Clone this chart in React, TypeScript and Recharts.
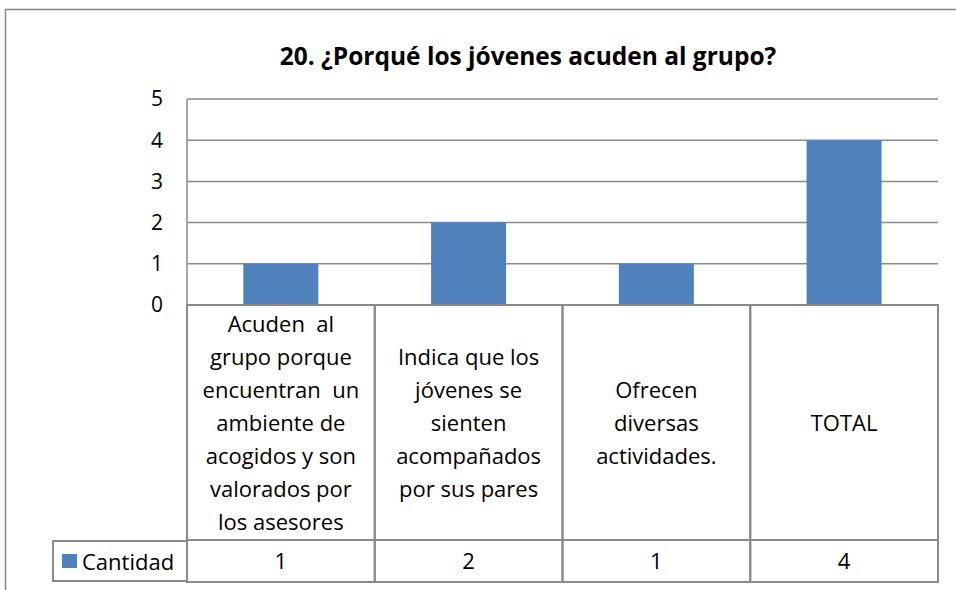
import React from 'react';
import { BarChart, Bar, XAxis, YAxis, CartesianGrid, Legend, Customized } from 'recharts';

const chartTitle = '20. ¿Porqué los jóvenes acuden al grupo?';
const seriesName = 'Cantidad';
const categoryLines: string[][] = [
  ['Acuden  al', 'grupo porque', 'encuentran  un', 'ambiente de', 'acogidos y son', 'valorados por', 'los asesores'],
  ['Indica que los', 'jóvenes se', 'sienten', 'acompañados', 'por sus pares'],
  ['Ofrecen', 'diversas', 'actividades.'],
  ['TOTAL'],
];
const cantidad = [1, 2, 1, 4];
const yTicks = [0, 1, 2, 3, 4, 5];

const data = categoryLines.map((lines, i) => ({ name: lines.join(' '), lines, value: cantidad[i] }));

const FONT = '"Open Sans", Lato, sans-serif';
const GRID = '#8a8a8a';
const BLUE = '#4F81BD';
const ROW1 = 235;
const ROW2 = 42;
const LINE_H = 33;

const CategoryTick = (props: any) => {
  const { x, y, index, width } = props;
  const bw = (width || 751) / categoryLines.length;
  const lines = categoryLines[index] || [];
  const cy = y + ROW1 / 2 + 1;
  const n = lines.length;
  return (
    <g>
      <rect x={x - bw / 2} y={y} width={bw} height={ROW1} fill="none" stroke={GRID} strokeWidth={2} />
      <rect x={x - bw / 2} y={y + ROW1} width={bw} height={ROW2} fill="none" stroke={GRID} strokeWidth={2} />
      {lines.map((ln, i) => (
        <text key={i} x={x} y={cy + (i - (n - 1) / 2) * LINE_H} dy="0.35em" textAnchor="middle"
          fontFamily={FONT} fontSize={22} fill="#000" style={{ whiteSpace: 'pre' }}>{ln}</text>
      ))}
      <text x={x} y={y + ROW1 + ROW2 / 2} dy="0.35em" textAnchor="middle" fontFamily={FONT} fontSize={22} fill="#000">
        {cantidad[index]}
      </text>
    </g>
  );
};

const LegendCell = (props: any) => {
  const item = (props.payload && props.payload[0]) || { value: seriesName, color: BLUE };
  return (
    <div style={{ width: 135, height: 42, boxSizing: 'border-box', border: `2px solid ${GRID}`, borderRight: 'none',
      display: 'flex', alignItems: 'center', fontFamily: FONT, fontSize: 22, color: '#000', lineHeight: 1 }}>
      <span style={{ display: 'inline-block', width: 15, height: 14, background: item.color, marginLeft: 8, marginRight: 5 }} />
      <span>{item.value}</span>
    </div>
  );
};

const Decor = () => (
  <g>
    <path d="M5.5 590 V9.5 H956" fill="none" stroke="#878787" strokeWidth={1.5} />
    <text x={528} y={56} dy="0.35em" textAnchor="middle" fontFamily={FONT} fontSize={24.5} fontWeight="bold" fill="#000">
      {chartTitle}
    </text>
  </g>
);

export default function App() {
  return (
    <div style={{ position: 'absolute', left: 0, top: 0, width: 956, height: 590, background: '#fff' }}>
      <BarChart width={956} height={590} data={data} margin={{ top: 99, right: 18, bottom: 0, left: 0 }}
        barCategoryGap="30%">
        <CartesianGrid horizontal vertical={false} stroke={GRID} strokeWidth={1.5} />
        <YAxis width={187} domain={[0, 5]} ticks={yTicks} interval={0} tickLine={false} tickSize={0} tickMargin={24}
          axisLine={{ stroke: GRID, strokeWidth: 1.5 }}
          tick={{ fontFamily: FONT, fontSize: 21, fill: '#000' }} />
        <XAxis dataKey="name" height={285} axisLine={false} tickLine={false} tickSize={0} tickMargin={0}
          interval={0} tick={<CategoryTick />} />
        <Bar dataKey="value" name={seriesName} fill={BLUE} isAnimationActive={false} />
        <Legend layout="horizontal" verticalAlign="middle" align="center" content={<LegendCell />}
          wrapperStyle={{ position: 'absolute', left: 52, top: 540, width: 135, height: 42 }} />
        <Customized component={Decor} />
      </BarChart>
    </div>
  );
}
